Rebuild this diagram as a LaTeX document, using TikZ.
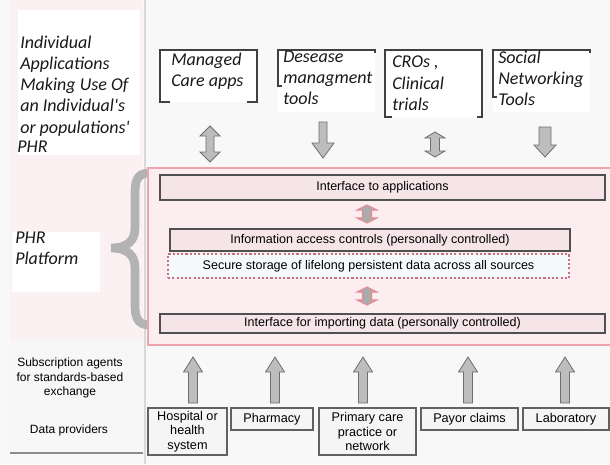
\documentclass[tikz,border=0pt]{standalone}
\usepackage{fontspec}
\setmainfont{Liberation Sans}
\newfontfamily\calfont{Carlito}
\newcommand\px[1]{#1*0.75pt}
% block arrows: #1 x, #2 ytop, #3 ybot, #4 shaft half, #5 head half, #6 head length, #7 style
\newcommand\blkdown[7]{\draw[#7] ({#1-#4},{#2}) -- ({#1+#4},{#2}) -- ({#1+#4},{#3-#6}) -- ({#1+#5},{#3-#6}) -- ({#1},{#3}) -- ({#1-#5},{#3-#6}) -- ({#1-#4},{#3-#6}) -- cycle;}
\newcommand\blkup[7]{\draw[#7] ({#1},{#2}) -- ({#1+#5},{#2+#6}) -- ({#1+#4},{#2+#6}) -- ({#1+#4},{#3}) -- ({#1-#4},{#3}) -- ({#1-#4},{#2+#6}) -- ({#1-#5},{#2+#6}) -- cycle;}
\newcommand\blkboth[7]{\draw[#7] ({#1},{#2}) -- ({#1+#5},{#2+#6}) -- ({#1+#4},{#2+#6}) -- ({#1+#4},{#3-#6}) -- ({#1+#5},{#3-#6}) -- ({#1},{#3}) -- ({#1-#5},{#3-#6}) -- ({#1-#4},{#3-#6}) -- ({#1-#4},{#2+#6}) -- ({#1-#5},{#2+#6}) -- cycle;}
\definecolor{bgall}{HTML}{F8F8F8}
\definecolor{bgleft}{HTML}{FBF1F2}
\definecolor{platfill}{HTML}{FCEDF0}
\definecolor{platline}{HTML}{F0A3AD}
\definecolor{boxfill}{HTML}{F6E5E8}
\definecolor{boxline}{HTML}{505050}
\definecolor{dotline}{HTML}{C86E7C}
\definecolor{ssfill}{HTML}{F5FBFC}
\definecolor{arrfill}{HTML}{BDBDBD}
\definecolor{arrline}{HTML}{6E6E6E}
\definecolor{inarrfill}{HTML}{ABABAB}
\definecolor{inarrline}{HTML}{E58A92}
\definecolor{bracecol}{HTML}{B3B3B3}
\begin{document}
\begin{tikzpicture}[x=0.75pt,y=-0.75pt,
  lbl/.style={font=\calfont\itshape\fontsize{13.5}{15.8}\selectfont, text=black!90, align=left, inner sep=0, anchor=north west},
  platbox/.style={draw=boxline, fill=boxfill, line width=0.8pt, inner sep=0, font=\fontsize{9.4}{11}\selectfont, text=black},
  srcbox/.style={draw=boxline!90, fill=white!96!black, line width=0.8pt, inner sep=0, align=center, font=\fontsize{9.5}{10.9}\selectfont, text=black},
  sidetxt/.style={align=center, inner sep=0, font=\fontsize{9}{10.6}\selectfont, text=black},
  bracket/.style={draw=black!75, line width=0.8pt},
  outarr/.style={fill=arrfill, draw=arrline, line width=0.6pt},
  inarr/.style={fill=inarrfill, draw=inarrline, line width=0.8pt}]
\useasboundingbox (0,0) rectangle (610,464);
% backgrounds
\fill[bgall] (0,0) rectangle (610,464);
\fill[bgleft] (10,0) rectangle (143,453);
\fill[white] (18,10) rectangle (140,155);
\fill[white] (12,232) rectangle (100,292);
\fill[white!97!black] (10,340) rectangle (143,453);
\draw[black!15, line width=0.8pt] (145,0) -- (145,464);
\draw[black!45, line width=1pt] (10,453) -- (143,453);
% left texts
\node[lbl] (lefttop) at (20,36) {Individual\\Applications\\Making Use Of\\an Individual's\\or populations'};
\node[lbl, anchor=north west] (phrl) at (17,141) {PHR};
\node[lbl] (plat) at (15,232) {PHR\\Platform};
\node[sidetxt] (subs) at (70,378) {Subscription agents\\for standards-based\\exchange};
\node[sidetxt] (dprov) at (69,430) {Data providers};
% app boxes
\fill[white] (160,50) rectangle (257,102);
\fill[white] (278,50) rectangle (375,112);
\fill[white] (385,50) rectangle (482,117);
\fill[white] (493,50) rectangle (590,112);
\draw[bracket] (170,102) -- (160,102) -- (160,50) -- (257,50) -- (257,102) -- (247,102);
\draw[bracket] (282,86) -- (278,86) -- (278,50) -- (375,50) -- (375,53);
\draw[bracket] (392,117) -- (385,117) -- (385,50) -- (482,50) -- (482,117) -- (477,117);
\draw[bracket] (497,97) -- (493,97) -- (493,50) -- (590,50) -- (590,53);
\node[lbl] (app1) at (171,53) {Managed\\Care apps};
\node[lbl] (app2) at (283,51) {Desease\\managment\\tools};
\node[lbl] (app3) at (392,56) {CROs ,\\Clinical\\trials};
\node[lbl] (app4) at (498,51) {Social\\Networking\\Tools};
% top arrows
\blkboth{210}{126}{162}{4}{10}{10}{outarr}
\blkdown{323}{122}{158}{4}{11}{15}{outarr}
\blkboth{435}{132}{157}{4.5}{10}{6}{outarr}
\blkdown{545}{127}{157}{6}{11}{12}{outarr}
% brace
\draw[bracecol, line width=6.5pt, line cap=round]
  (148,173) .. controls (136,174) and (135,182) .. (135,195)
  -- (135,228) .. controls (135,242) and (126,248) .. (111,248)
  .. controls (126,248) and (135,254) .. (135,268)
  -- (135,305) .. controls (135,318) and (138,324) .. (148,325);
% platform
\draw[fill=platfill, draw=platline, line width=1pt] (148,168) rectangle (612,345);
\node[platbox, minimum width=\px{445}, minimum height=\px{25}] (ia) at (382.5,187.5) {Interface to applications};
\node[platbox, minimum width=\px{400}, minimum height=\px{22}] (iac) at (370,240) {Information access controls (personally controlled)};
\node[platbox, draw=dotline, fill=ssfill, line width=1.6pt, dash pattern=on 1.6pt off 1.6pt, minimum width=\px{401}, minimum height=\px{24}] (ss) at (368.5,266) {Secure storage of lifelong persistent data across all sources};
\node[platbox, minimum width=\px{445}, minimum height=\px{19}] (iid) at (382.5,323.5) {Interface for importing data (personally controlled)};
\blkboth{367}{205}{223}{4.5}{10}{5}{inarr}
\blkboth{367}{287}{305}{4.5}{10}{5}{inarr}
% bottom arrows
\foreach \xx in {193,275,363,468,565} {\blkup{\xx}{357}{403}{4.5}{9.5}{15}{outarr}}
% data provider boxes
\node[srcbox, minimum width=\px{79}, minimum height=\px{47}] (hosp) at (187.5,431.5) {Hospital or\\health\\system};
\node[srcbox, minimum width=\px{82}, minimum height=\px{22}] (phar) at (272,419) {Pharmacy};
\node[srcbox, minimum width=\px{97}, minimum height=\px{47}] (prim) at (367.5,431.5) {Primary care\\practice or\\network};
\node[srcbox, minimum width=\px{97}, minimum height=\px{22}] (payor) at (469.5,419) {Payor claims};
\node[srcbox, minimum width=\px{86}, minimum height=\px{22}] (lab) at (566,419) {Laboratory};
\end{tikzpicture}
\end{document}
